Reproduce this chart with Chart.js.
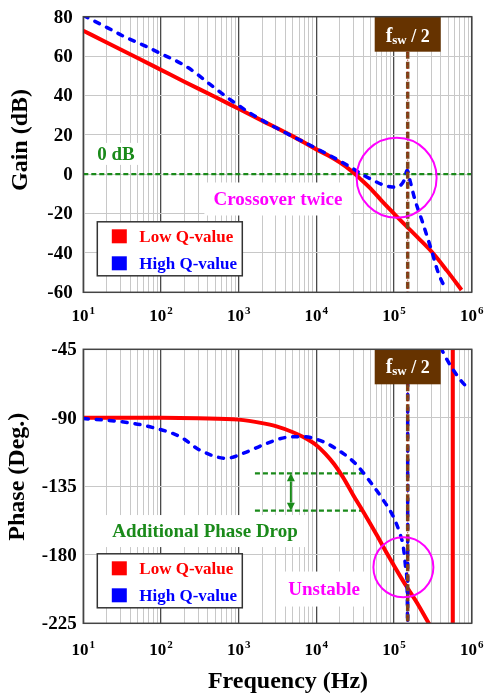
<!DOCTYPE html>
<html>
<head>
<meta charset="utf-8">
<title>Loop gain / phase, low vs high Q</title>
<script src="https://cdn.jsdelivr.net/npm/chart.js@4.4.1/dist/chart.umd.min.js"></script>
<style>
  html, body { margin: 0; padding: 0; background: #fff; }
  canvas { display: block; }
</style>
</head>
<body>
<canvas id="gainChart" width="486" height="332"></canvas>
<canvas id="phaseChart" width="486" height="362"></canvas>
<script>
const SERIF = '"Liberation Serif", "Times New Roman", Times, serif';

// frequency axis: 10^1 .. 10^6 Hz
const FREQ_DECADES = [1, 2, 3, 4, 5, 6];
const FSW_HALF = 150e3;

const GAIN_TICKS = [80, 60, 40, 20, 0, -20, -40, -60];
const PHASE_TICKS = [-45, -90, -135, -180, -225];

// gain (dB), low Q
const gainLowFreq = [10, 20, 50, 100, 200, 500, 1e3, 2e3, 5e3, 1e4, 1.5e4, 2e4, 2.8e4, 3.6e4, 5e4, 7.3e4, 1.08e5, 1.41e5, 2e5, 3.2e5, 4.8e5, 7.4e5];
const gainLowDb   = [72.9, 66.9, 59, 53, 47, 39.2, 33.2, 27.2, 19.2, 12.6, 9, 6, 1.8, -2, -7.3, -14.5, -21.4, -26, -32, -40.3, -49, -58.8];

// gain (dB), high Q
const gainHighFreq = [10, 20, 34, 59, 100, 214, 470, 850, 1550, 3760, 1e4, 2.7e4, 4e4, 5.5e4, 7.2e4, 9e4, 1.08e5, 1.22e5, 1.35e5, 1.48e5, 1.6e5, 1.86e5, 2.28e5, 3e5, 3.73e5, 4.68e5];
const gainHighDb   = [80.6, 74.6, 69.8, 65.6, 61.2, 54.6, 44.4, 36.8, 30, 21.6, 13.1, 3.8, -0.4, -3.3, -5.4, -6.4, -6.6, -5.6, -3, 2, -3, -13, -23.3, -38, -50.3, -58.8];

// phase (deg), low Q, plus the wrap at ~570 kHz
const phaseLowFreq = [10, 100, 300, 1e3, 2e3, 3e3, 5e3, 7e3, 1e4, 1.3e4, 1.7e4, 2.2e4, 3e4, 4e4, 6e4, 8.3e4, 1.2e5, 1.5e5, 2e5, 2.8e5, 4e5, 5.7e5];
const phaseLowDeg  = [-90, -90, -90.3, -91.2, -93.5, -95.5, -99.5, -103, -108, -113.5, -120.5, -129, -141, -151.5, -167, -180, -194, -202, -212, -225, -238, -252];
const phaseLowWrapFreq = [5.7e5, 5.7e5];
const phaseLowWrapDeg  = [-252, 110];

// phase (deg), high Q: main branch, wrap at fsw/2, tail after the wrap
const phaseHighFreq = [10, 30, 72, 176, 316, 700, 1150, 2300, 4200, 6800, 1.22e4, 2.2e4, 3.16e4, 5.1e4, 7.26e4, 9.8e4, 1.19e5, 1.32e5, 1.41e5, 1.48e5, 1.5e5];
const phaseHighDeg  = [-90.5, -92.5, -95.9, -102.4, -111.2, -116.6, -113.3, -106.8, -102.8, -102.4, -105.7, -113.3, -119.9, -133, -144, -155, -166, -175, -188, -205, -240];
const phaseHighWrapFreq = [1.5e5, 1.5e5];
const phaseHighWrapDeg  = [-240, 0];
const phaseHighTailFreq = [3e5, 4.1e5, 5.8e5, 8.6e5, 9.5e5];
const phaseHighTailDeg  = [-28, -45, -58.6, -69.6, -71];

// additional phase drop at the crossover
const dropStartFreq = 1620;
const dropEndFreq = [4e4, 4.2e4];
const dropDeg = [-126.5, -151];
const dropArrowFreq = 4700;

const RED = '#ff0000';
const BLUE = '#0000ff';
const MAGENTA = '#ff00ff';
const GREEN = '#1a8a1a';
const BROWN = '#663300';

const pts = (xs, ys) => xs.map((x, i) => ({ x, y: ys[i] }));

function lowQ(data, straight) {
  return {
    data, borderColor: RED, borderWidth: 4, pointRadius: 0, clip: 0, order: 2,
    cubicInterpolationMode: straight ? 'default' : 'monotone', tension: 0
  };
}
function highQ(data, straight) {
  return {
    data, borderColor: BLUE, borderWidth: 3.5, borderDash: [5, 8], borderCapStyle: 'round',
    pointRadius: 0, clip: 0, order: 1,
    cubicInterpolationMode: straight ? 'default' : 'monotone', tension: 0
  };
}

// 1..9 x 10^n grid lines
const freqGrid = [];
FREQ_DECADES.slice(0, -1).forEach(e => {
  for (let k = 1; k <= 9; k++) freqGrid.push(Number((k * Math.pow(10, e)).toPrecision(6)));
});
freqGrid.push(1e6);

const isDecade = v => Math.abs(Math.log10(v) - Math.round(Math.log10(v))) < 1e-6;

function scalesFor(yMin, yMax, yStep) {
  return {
    x: {
      type: 'logarithmic', min: 10, max: 1e6,
      afterBuildTicks: s => { s.ticks = freqGrid.map(v => ({ value: v })); },
      afterFit: s => { s.height = 0; },
      ticks: { display: false },
      border: { display: false },
      grid: {
        drawTicks: false,
        color: c => (c.tick && isDecade(c.tick.value)) ? '#4a4a4a' : '#c8c8c8',
        lineWidth: c => (c.tick && isDecade(c.tick.value)) ? 1.3 : 1
      }
    },
    y: {
      min: yMin, max: yMax,
      afterFit: s => { s.width = 0; },
      ticks: { display: false, stepSize: yStep },
      border: { display: false },
      grid: { drawTicks: false, color: '#c8c8c8', lineWidth: 1 }
    }
  };
}

// ---- drawing helpers ----
function frame(chart) {
  const { ctx, chartArea: a } = chart;
  ctx.save();
  ctx.strokeStyle = '#444';
  ctx.lineWidth = 1.5;
  ctx.strokeRect(a.left, a.top, a.right - a.left, a.bottom - a.top);
  ctx.restore();
}

function yTickLabels(chart, ticks, gap) {
  const { ctx, chartArea: a } = chart;
  const ys = chart.scales.y;
  ctx.save();
  ctx.font = 'bold 19px ' + SERIF;
  ctx.fillStyle = '#000';
  ctx.textAlign = 'right';
  ctx.textBaseline = 'middle';
  ticks.forEach(t => ctx.fillText(String(t), a.left - gap, ys.getPixelForValue(t) + 1));
  ctx.restore();
}

function xTickLabels(chart, baseline) {
  const { ctx } = chart;
  const xs = chart.scales.x;
  ctx.save();
  ctx.fillStyle = '#000';
  ctx.textBaseline = 'alphabetic';
  ctx.textAlign = 'left';
  FREQ_DECADES.forEach(e => {
    const x = xs.getPixelForValue(Math.pow(10, e));
    ctx.font = 'bold 17px ' + SERIF;
    const w1 = ctx.measureText('10').width;
    ctx.font = 'bold 11px ' + SERIF;
    const w2 = ctx.measureText(String(e)).width;
    const x0 = x - (w1 + w2 + 1) / 2;
    ctx.font = 'bold 17px ' + SERIF;
    ctx.fillText('10', x0, baseline);
    ctx.font = 'bold 11px ' + SERIF;
    ctx.fillText(String(e), x0 + w1 + 1, baseline - 7);
  });
  ctx.restore();
}

function vTitle(chart, text, cx, cy) {
  const { ctx } = chart;
  ctx.save();
  ctx.translate(cx, cy);
  ctx.rotate(-Math.PI / 2);
  ctx.font = 'bold 24px ' + SERIF;
  ctx.fillStyle = '#000';
  ctx.textAlign = 'center';
  ctx.textBaseline = 'middle';
  ctx.fillText(text, 0, 0);
  ctx.restore();
}

function fswMarker(chart, baselineOffset) {
  const { ctx, chartArea: a } = chart;
  const x = chart.scales.x.getPixelForValue(FSW_HALF);
  const boxW = 66, boxH = 35;
  const top = a.top;
  ctx.save();
  // dotted marker line
  ctx.beginPath();
  ctx.moveTo(x, top + boxH);
  ctx.lineTo(x, a.bottom);
  ctx.strokeStyle = '#7b4a1e';
  ctx.lineWidth = 3.5;
  ctx.setLineDash([7, 3]);
  ctx.stroke();
  ctx.beginPath();
  ctx.moveTo(x, top + boxH);
  ctx.lineTo(x, a.bottom);
  ctx.strokeStyle = '#c00000';
  ctx.lineWidth = 1;
  ctx.setLineDash([1, 3]);
  ctx.stroke();
  ctx.setLineDash([]);
  // label box
  ctx.fillStyle = BROWN;
  ctx.fillRect(x - boxW / 2, top, boxW, boxH);
  ctx.fillStyle = '#fff';
  ctx.textBaseline = 'alphabetic';
  ctx.textAlign = 'left';
  const parts = [
    { t: 'f', f: 'bold 20px ' + SERIF, dy: 0 },
    { t: 'sw', f: 'bold 13px ' + SERIF, dy: 2 },
    { t: ' / 2', f: 'bold 18px ' + SERIF, dy: 0 }
  ];
  let total = 0;
  parts.forEach(p => { ctx.font = p.f; p.w = ctx.measureText(p.t).width; total += p.w; });
  let cx = x - total / 2;
  const base = top + baselineOffset;
  parts.forEach(p => { ctx.font = p.f; ctx.fillText(p.t, cx, base + p.dy); cx += p.w; });
  ctx.restore();
}

function circle(chart, fx, vy, r) {
  const { ctx } = chart;
  const x = chart.scales.x.getPixelForValue(fx);
  const y = chart.scales.y.getPixelForValue(vy);
  ctx.save();
  ctx.beginPath();
  ctx.arc(x, y, r, 0, Math.PI * 2);
  ctx.strokeStyle = MAGENTA;
  ctx.lineWidth = 2;
  ctx.stroke();
  ctx.restore();
}

function boxedText(chart, text, color, fx, vy, bw, bh) {
  const { ctx } = chart;
  const x = chart.scales.x.getPixelForValue(fx);
  const y = chart.scales.y.getPixelForValue(vy);
  ctx.save();
  ctx.fillStyle = '#fff';
  ctx.fillRect(x - bw / 2, y - bh / 2, bw, bh);
  ctx.font = 'bold 19px ' + SERIF;
  ctx.fillStyle = color;
  ctx.textAlign = 'center';
  ctx.textBaseline = 'middle';
  ctx.fillText(text, x, y + 1);
  ctx.restore();
}

function legendBox(chart, bottomGap) {
  const { ctx, chartArea: a } = chart;
  const w = 145, h = 54;
  const left = a.left + 14;
  const top = a.bottom - bottomGap - h;
  ctx.save();
  ctx.fillStyle = '#fff';
  ctx.fillRect(left, top, w, h);
  ctx.strokeStyle = '#333';
  ctx.lineWidth = 1.5;
  ctx.strokeRect(left, top, w, h);
  ctx.font = 'bold 17px ' + SERIF;
  ctx.textAlign = 'left';
  ctx.textBaseline = 'middle';
  [['Low Q-value', RED], ['High Q-value', BLUE]].forEach(([label, col], i) => {
    const cy = top + 14.5 + i * 27;
    ctx.fillStyle = col;
    ctx.fillRect(left + 14.5, cy - 7, 15, 14);
    ctx.fillText(label, left + 42, cy + 1);
  });
  ctx.restore();
}

function hDashed(chart, f0, f1, v) {
  const { ctx } = chart;
  const xs = chart.scales.x, ys = chart.scales.y;
  const y = ys.getPixelForValue(v);
  ctx.save();
  ctx.beginPath();
  ctx.moveTo(xs.getPixelForValue(f0), y);
  ctx.lineTo(xs.getPixelForValue(f1), y);
  ctx.strokeStyle = GREEN;
  ctx.lineWidth = 2.2;
  ctx.setLineDash([5, 3]);
  ctx.stroke();
  ctx.restore();
}

function doubleArrow(chart, f, v0, v1) {
  const { ctx } = chart;
  const x = chart.scales.x.getPixelForValue(f);
  const y0 = chart.scales.y.getPixelForValue(v0);
  const y1 = chart.scales.y.getPixelForValue(v1);
  const head = 8, half = 4;
  ctx.save();
  ctx.strokeStyle = GREEN;
  ctx.fillStyle = GREEN;
  ctx.lineWidth = 2;
  ctx.beginPath();
  ctx.moveTo(x, y0 + head);
  ctx.lineTo(x, y1 - head);
  ctx.stroke();
  ctx.beginPath();
  ctx.moveTo(x, y0); ctx.lineTo(x - half, y0 + head); ctx.lineTo(x + half, y0 + head); ctx.closePath();
  ctx.fill();
  ctx.beginPath();
  ctx.moveTo(x, y1); ctx.lineTo(x - half, y1 - head); ctx.lineTo(x + half, y1 - head); ctx.closePath();
  ctx.fill();
  ctx.restore();
}

// ---- gain chart ----
const gainOverlay = {
  id: 'gainOverlay',
  beforeDatasetsDraw(chart) {
    hDashed(chart, 10, 1e6, 0);
  },
  afterDatasetsDraw(chart) {
    fswMarker(chart, 25);
    circle(chart, 1.08e5, -1.8, 40);
    boxedText(chart, '0 dB', GREEN, 26.4, 10.3, 45, 22);
    boxedText(chart, 'Crossover twice', MAGENTA, 3200, -12.6, 147, 33);
    legendBox(chart, 16.5);
    frame(chart);
    yTickLabels(chart, GAIN_TICKS, 10.6);
    xTickLabels(chart, 321);
    vTitle(chart, 'Gain (dB)', 21, 140);
  }
};

new Chart(document.getElementById('gainChart'), {
  type: 'line',
  data: {
    datasets: [
      highQ(pts(gainHighFreq, gainHighDb)),
      lowQ(pts(gainLowFreq, gainLowDb))
    ]
  },
  options: {
    responsive: false,
    animation: false,
    layout: { padding: { left: 83.3, right: 14.3, top: 16.7, bottom: 39.7 } },
    scales: scalesFor(-60, 80, 20),
    plugins: { legend: { display: false }, tooltip: { enabled: false } }
  },
  plugins: [gainOverlay]
});

// ---- phase chart ----
const phaseOverlay = {
  id: 'phaseOverlay',
  beforeDatasetsDraw(chart) {
    hDashed(chart, dropStartFreq, dropEndFreq[0], dropDeg[0]);
    hDashed(chart, dropStartFreq, dropEndFreq[1], dropDeg[1]);
  },
  afterDatasetsDraw(chart) {
    doubleArrow(chart, dropArrowFreq, dropDeg[0], dropDeg[1]);
    fswMarker(chart, 23.5);
    circle(chart, 1.32e5, -188.2, 30);
    boxedText(chart, 'Additional Phase Drop', GREEN, 369, -164.4, 205, 32);
    boxedText(chart, 'Unstable', MAGENTA, 12600, -202.5, 80, 35);
    legendBox(chart, 15.5);
    frame(chart);
    yTickLabels(chart, PHASE_TICKS, 6.6);
    xTickLabels(chart, 323);
    vTitle(chart, 'Phase (Deg.)', 18, 144.7);
    const { ctx } = chart;
    ctx.save();
    ctx.font = 'bold 24px ' + SERIF;
    ctx.fillStyle = '#000';
    ctx.textAlign = 'center';
    ctx.textBaseline = 'alphabetic';
    ctx.fillText('Frequency (Hz)', 288, 356);
    ctx.restore();
  }
};

new Chart(document.getElementById('phaseChart'), {
  type: 'line',
  data: {
    datasets: [
      highQ(pts(phaseHighFreq, phaseHighDeg)),
      highQ(pts(phaseHighWrapFreq, phaseHighWrapDeg), true),
      highQ(pts(phaseHighTailFreq, phaseHighTailDeg)),
      lowQ(pts(phaseLowFreq, phaseLowDeg)),
      lowQ(pts(phaseLowWrapFreq, phaseLowWrapDeg), true)
    ]
  },
  options: {
    responsive: false,
    animation: false,
    layout: { padding: { left: 83.3, right: 14.3, top: 17.3, bottom: 70.7 } },
    scales: scalesFor(-225, -45, 45),
    plugins: { legend: { display: false }, tooltip: { enabled: false } }
  },
  plugins: [phaseOverlay]
});
</script>
</body>
</html>
